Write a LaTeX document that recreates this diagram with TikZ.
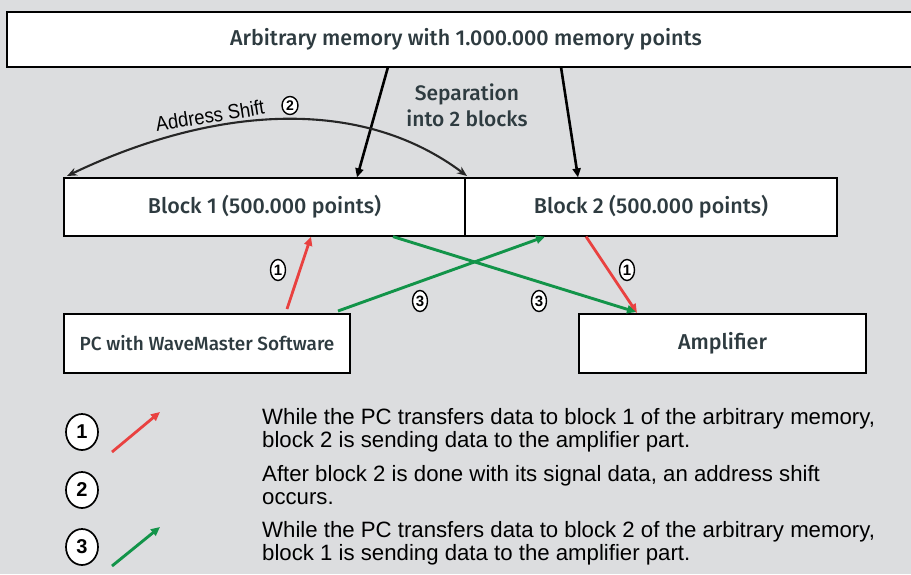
\documentclass[tikz,border=0pt]{standalone}
\usepackage{fontspec}
\usetikzlibrary{arrows.meta,shapes.geometric,calc}
\setmainfont{Fira Sans}[UprightFont=* Medium]
\newfontfamily\legfont{Liberation Sans}
\newfontfamily\narrowfont{Liberation Sans}[FakeStretch=0.9]
\definecolor{bg}{HTML}{DCDDDF}
\definecolor{boxtext}{HTML}{2E3B40}
\definecolor{myred}{HTML}{E94140}
\definecolor{mygreen}{HTML}{129449}
\begin{document}
\begin{tikzpicture}[x=1pt,y=-1pt,
  box/.style={draw=black,fill=white,line width=1.6pt,text=boxtext,font=\fontsize{21.5}{24}\selectfont,inner sep=0pt},
  num/.style={draw=black,fill=white,ellipse,line width=1.4pt,inner sep=0pt,minimum width=15pt,minimum height=21pt,font=\legfont\bfseries\fontsize{15}{15}\selectfont},
  bignum/.style={draw=black,fill=white,ellipse,line width=1.7pt,inner sep=0pt,minimum width=32pt,minimum height=36pt,font=\legfont\bfseries\fontsize{20}{20}\selectfont},
  blk/.style={line width=2.6pt,-{Triangle[length=9pt,width=8pt]}},
  redar/.style={myred,line width=2.8pt,-{Triangle[length=9pt,width=8pt]}},
  grnar/.style={mygreen,line width=2.9pt,-{Triangle[length=9pt,width=8pt]}},
  leg/.style={anchor=north west,align=left,font=\legfont\fontsize{22.2}{23.5}\selectfont,inner sep=0pt,text=black}
]
\useasboundingbox[fill=bg] (0,0) rectangle (911,574);
% boxes
\node[box,minimum width=918pt,minimum height=55pt] (mem) at (466,39.5) {Arbitrary memory with 1.000.000 memory points};
\node[box,line width=1.2pt,minimum width=401pt,minimum height=58pt] (b1) at (264.5,207) {Block 1 (500.000 points)};
\node[box,line width=1.2pt,minimum width=372pt,minimum height=58pt] (b2) at (651,207) {Block 2 (500.000 points)};
\node[box,minimum width=286pt,minimum height=59pt,font=\fontsize{19}{22}\selectfont] (pc) at (207,343.5) {PC with WaveMaster Software};
\node[box,minimum width=287pt,minimum height=59pt] (amp) at (722.5,343.5) {Amplifier};
% separation text
\node[text=boxtext,font=\fontsize{21}{26}\selectfont,align=center] (sep) at (467,105) {Separation\\into 2 blocks};
% black arrows
\coordinate (m1) at (388,67);
\coordinate (m2) at (561,67);
\draw[blk] (m1) -- (b1.north -| 357,0);
\draw[blk] (m2) -- (b2.north -| 578,0);
% address shift arc
\coordinate (as1) at (67,176);
\coordinate (as2) at (467,176);
\draw[line width=2.1pt,draw=black!85,{Stealth[length=10pt,width=8pt]}-{Stealth[length=10pt,width=8pt]}] (as1) .. controls (205,110) and (355,92) .. (as2);
\node[font=\narrowfont\fontsize{20.5}{20.5}\selectfont,rotate=9,text=black,inner sep=0pt] (asl) at (210,115.5) {Address Shift};
\node[num,minimum width=16pt,minimum height=18pt,font=\legfont\bfseries\fontsize{14}{14}\selectfont] (n2a) at (290,105.5) {2};
% red arrows
\coordinate (pr) at (287,309);
\coordinate (ar) at (637,313);
\draw[redar] (pr) -- (b1.south -| 311,0);
\draw[redar] (b2.south -| 586,0) -- (ar);
\node[num] (n1a) at (278,270) {1};
\node[num] (n1b) at (627,270) {1};
% green arrows
\coordinate (pg) at (338,311);
\coordinate (ag) at (636,312);
\draw[grnar] (pg) -- (b2.south -| 545,0);
\draw[grnar] (b1.south -| 393,0) -- (ag);
\node[num] (n3a) at (420,301) {3};
\node[num] (n3b) at (539,301) {3};
% legend
\node[bignum] (l1) at (82,432) {1};
\node[bignum] (l2) at (82,490) {2};
\node[bignum] (l3) at (82,547) {3};
\coordinate (lr1) at (112,452); \coordinate (lr2) at (160,412);
\coordinate (lg1) at (112,566); \coordinate (lg2) at (160,527);
\draw[redar] (lr1) -- (lr2);
\draw[grnar] (lg1) -- (lg2);
\node[leg] (t1) at (262,408) {While the PC transfers data to block 1 of the arbitrary memory,\\block 2 is sending data to the amplifier part.};
\node[leg] (t2) at (262,465) {After block 2 is done with its signal data, an address shift\\occurs.};
\node[leg] (t3) at (262,521) {While the PC transfers data to block 2 of the arbitrary memory,\\block 1 is sending data to the amplifier part.};
\end{tikzpicture}
\end{document}
